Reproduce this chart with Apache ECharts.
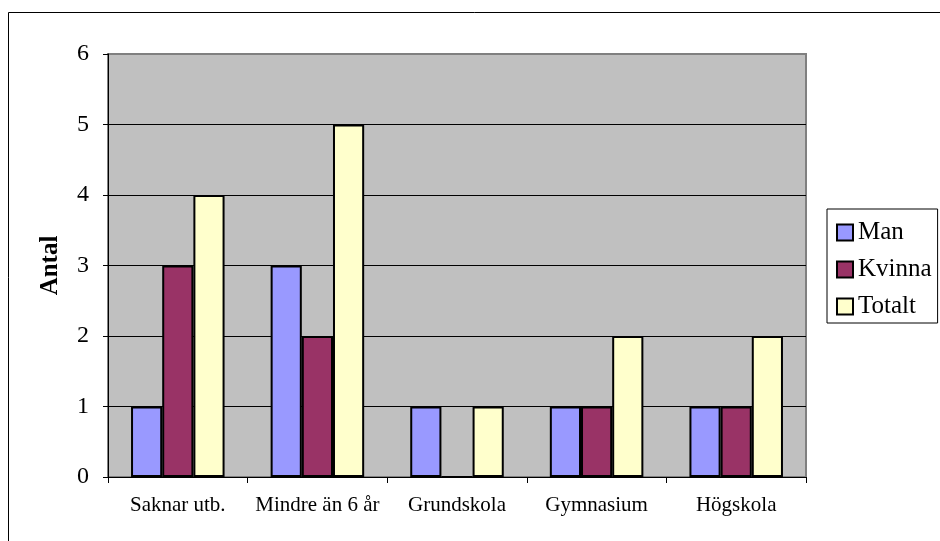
<!DOCTYPE html>
<html>
<head>
<meta charset="utf-8">
<script src="https://cdn.jsdelivr.net/npm/echarts@6/dist/echarts.min.js"></script>
<style>
  html, body { margin: 0; padding: 0; background: #fff; }
  #chart { width: 940px; height: 541px; }
</style>
</head>
<body>
<div id="chart"></div>
<script>
// Education level categories and counts per group
const categories = ['Saknar utb.', 'Mindre än 6 år', 'Grundskola', 'Gymnasium', 'Högskola'];
const man = [1, 3, 1, 1, 1];
const kvinna = [3, 2, 0, 1, 1];
const totalt = [4, 5, 1, 2, 2];
const seriesNames = ['Man', 'Kvinna', 'Totalt'];
const seriesColors = ['#9999FF', '#993366', '#FFFFCC'];

const font = '"Liberation Serif", "Times New Roman", serif';
const chart = echarts.init(document.getElementById('chart'));

const barSeries = [man, kvinna, totalt].map((values, i) => ({
  name: seriesNames[i],
  type: 'bar',
  data: values,
  barGap: '0%',
  barCategoryGap: '33%',
  itemStyle: { color: seriesColors[i], borderColor: '#000', borderWidth: 2 },
  emphasis: { disabled: true }
}));

chart.setOption({
  animation: false,
  backgroundColor: '#fff',
  textStyle: { fontFamily: font },
  graphic: [{
    type: 'rect',
    shape: { x: 8.5, y: 12.5, width: 1200, height: 1200 },
    style: { fill: 'none', stroke: '#000', lineWidth: 1 },
    silent: true,
    z: -1
  }],
  grid: {
    left: 108, top: 54, right: 134, bottom: 64,
    show: true,
    backgroundColor: '#C0C0C0',
    borderColor: '#808080',
    borderWidth: 2
  },
  legend: {
    orient: 'vertical',
    left: 827, top: 209,
    width: 111,
    padding: [11, 6, 4, 9],
    itemGap: 12,
    itemWidth: 16, itemHeight: 16,
    icon: 'rect',
    backgroundColor: '#fff',
    borderColor: '#000',
    borderWidth: 1,
    borderRadius: 0,
    itemStyle: { borderColor: '#000', borderWidth: 2 },
    textStyle: { fontFamily: font, fontSize: 25, color: '#000' },
    data: seriesNames
  },
  xAxis: {
    type: 'category',
    data: categories,
    axisLine: { lineStyle: { color: '#000', width: 1 } },
    axisTick: { show: true, interval: 0, length: 6, lineStyle: { color: '#000' } },
    axisLabel: { interval: 0, fontFamily: font, fontSize: 21, color: '#000', margin: 18 }
  },
  yAxis: {
    type: 'value',
    min: 0, max: 6, interval: 1,
    name: 'Antal',
    nameLocation: 'middle',
    nameGap: 45,
    nameTextStyle: { fontFamily: font, fontSize: 25, fontWeight: 'bold', color: '#000' },
    axisLine: { show: true, lineStyle: { color: '#000', width: 1 } },
    axisTick: { show: true, length: 5, lineStyle: { color: '#000' } },
    axisLabel: { fontFamily: font, fontSize: 24, color: '#000', margin: 19 },
    splitLine: { show: true, showMaxLine: false, showMinLine: false, lineStyle: { color: '#000', width: 1 } }
  },
  series: barSeries
});
</script>
</body>
</html>
